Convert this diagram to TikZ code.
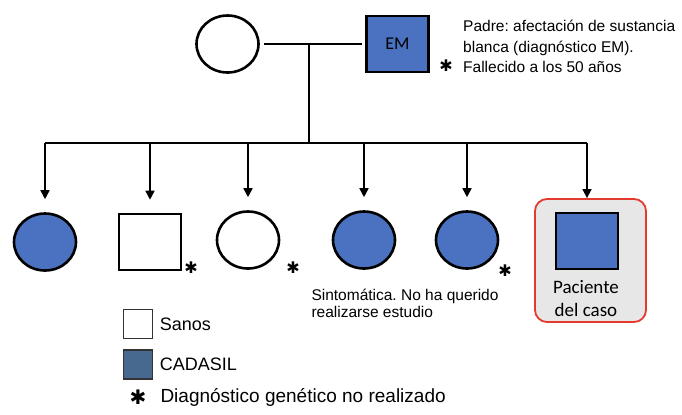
\documentclass[tikz,border=0pt]{standalone}
\usepackage{fontspec}
\setmainfont{Liberation Sans}
\newfontfamily\calibrifont{Carlito}
\newfontfamily\symbfont{DejaVu Sans}
\usetikzlibrary{arrows.meta}
\usetikzlibrary{positioning}
\usetikzlibrary{shapes.geometric}
\definecolor{affblue}{HTML}{4A72C0}
\definecolor{legblue}{HTML}{48698F}
\definecolor{casegray}{HTML}{E7E7E7}
\definecolor{casered}{HTML}{E53B2F}
\frenchspacing

\begin{document}
\begin{tikzpicture}[x=1bp,y=-1bp,
	female/.style={ellipse,draw,line width=2.6bp,minimum width=62bp,minimum height=57bp,inner sep=0pt},
	male/.style={rectangle,draw,line width=2.6bp,minimum width=62bp,minimum height=56bp,inner sep=0pt},
	affected/.style={fill=affblue},
	link/.style={line width=1.6bp},
	descent/.style={link,-{Triangle[width=9bp,length=9bp]},shorten >=13bp},
	star/.style={inner sep=0pt,font=\symbfont\fontsize{16bp}{16bp}\selectfont},
	casebox/.style={rectangle,rounded corners=12bp,draw=casered,fill=casegray,line width=1.8bp,minimum width=111bp,minimum height=123bp},
	legbox/.style={draw=black!80,line width=1.8bp,minimum size=29bp,inner sep=0pt},
	legtext/.style={font=\fontsize{18bp}{18bp}\selectfont}]
	\useasboundingbox (0,0) rectangle (682,414);
	%PARENTS
	\node [female] (mother) at (227.5,44) {};
	\node [male,affected,font=\calibrifont\fontsize{18bp}{18bp}\selectfont] (father) at (397.5,44) {EM};
	\draw[link,shorten <=4bp,shorten >=3bp] (mother.east) -- (father.west);
	\coordinate (mar) at (309,44);
	\coordinate (sib) at (309,143);
	\draw[link] (mar) -- (sib);
	\node [star] (afather) at (446,66) {✱};
	\node [anchor=west,align=left,inner sep=1bp,font=\fontsize{15.5bp}{20.5bp}\selectfont] (note) at (462,46.5) {Padre: afectación de sustancia\\blanca (diagnóstico EM).\\Fallecido a los 50 años};
	%CHILDREN
	\node [female,affected] (c1) at (45,242) {};
	\node [male] (c2) at (150,242) {};
	\node [female] (c3) at (248,240) {};
	\node [female,affected] (c4) at (364,240) {};
	\node [female,affected] (c5) at (467,240) {};
	\node [casebox] (caso) at (590.5,260.5) {};
	\node [male,affected] (c6) at (587,241) {};
	\node [align=center,font=\calibrifont\fontsize{19bp}{23bp}\selectfont] (pac) at (586,298.5) {Paciente\\del caso};
	  %DESCENT
	  \draw[link] (c1 |- sib) -- (c6 |- sib);
	  \foreach \c in {c1,c2,c3,c4,c5}
	    \draw[descent] (\c |- sib) -- (\c.north);
	  \draw[descent,shorten >=0pt] (c6 |- sib) -- (c6 |- caso.north);
	  %MARKS
	  \node [star] (a2) at (191,268) {✱};
	  \node [star] (a3) at (293,268) {✱};
	  \node [star] (a5) at (505,271) {✱};
	\node [anchor=west,align=left,font=\fontsize{15.5bp}{17bp}\selectfont] (sinto) at (308,303.5) {Sintomática. No ha querido\\realizarse estudio};
	%LEGEND
	\node [legbox] (l1) at (138,324) {};
	\node [legtext,right=3bp of l1] (l1t) {Sanos};
	\node [legbox,fill=legblue] (l2) at (138,364.5) {};
	\node [legtext,right=3bp of l2] (l2t) {CADASIL};
	\node [star,font=\symbfont\fontsize{20bp}{20bp}\selectfont] (l3) at (138,397) {✱};
	\node [legtext,anchor=west,font=\fontsize{19bp}{19bp}\selectfont] (l3t) at (157,397) {Diagnóstico genético no realizado};
\end{tikzpicture}
\end{document}
